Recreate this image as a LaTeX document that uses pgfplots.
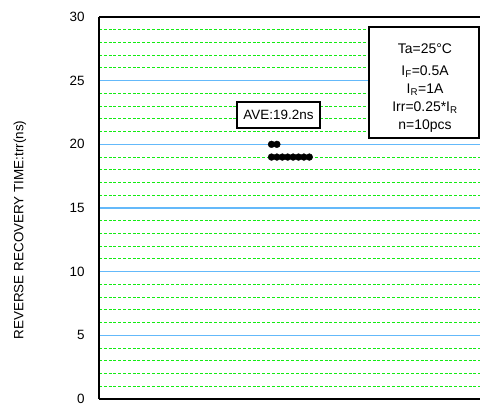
\documentclass[border=0pt]{standalone}
\usepackage{fontspec}
\setmainfont{Liberation Sans}
\usepackage{pgfplots}
\pgfplotsset{compat=1.18}
\definecolor{majorblue}{RGB}{100,185,250}
\definecolor{minorgreen}{RGB}{20,235,20}
\begin{document}
\begin{tikzpicture}[x=1bp,y=1bp]
\begin{scope}
\clip (0,0) rectangle (480,410);
\begin{axis}[
  at={(99bp,11bp)}, anchor=south west,
  scale only axis, width=391bp, height=382bp,
  xmin=99, xmax=490, ymin=0, ymax=30,
  axis x line=box, axis y line=left,
  axis line style={-, line width=1.8bp, black},
  xtick=\empty,
  ytick={0,5,...,30},
  minor ytick={1,2,3,4,6,7,8,9,11,12,13,14,16,17,18,19,21,22,23,24,26,27,28,29},
  major tick length=0pt, minor tick length=0pt,
  ymajorgrids, yminorgrids,
  major grid style={majorblue, line width=1.2bp},
  minor grid style={minorgreen, line width=1.1bp, dash pattern=on 3bp off 1.8bp},
  /pgf/number format/assume math mode=true,
  yticklabel style={font=\fontsize{13.5}{15}\selectfont, anchor=east, xshift=-11bp},
  clip=false,
]
\addplot[only marks, mark=*, mark size=3.4bp, black] coordinates {
  (271.5,20) (276.9,20)
  (271.5,19) (276.9,19) (282.3,19) (287.7,19) (293.1,19) (298.5,19) (303.9,19) (309.3,19)
};
\end{axis}
\node[rotate=90, font=\fontsize{13.5}{15}\selectfont] at (20,180) {REVERSE RECOVERY TIME:trr(ns)};
\draw[line width=1.4bp, fill=white] (369,272) rectangle (479,383);
\begin{scope}[every node/.style={font=\fontsize{14}{16}\selectfont, inner sep=0pt}]
\node at (425,361) {Ta=25°C};
\node at (425,338) {I\textsubscript{F}=0.5A};
\node at (425,320) {I\textsubscript{R}=1A};
\node at (425,302) {Irr=0.25*I\textsubscript{R}};
\node at (425,284) {n=10pcs};
\end{scope}
\draw[line width=1.4bp, fill=white] (237,282) rectangle (320,308);
\node[font=\fontsize{13.5}{16}\selectfont] at (278.5,295) {AVE:19.2ns};
\end{scope}
\pgfresetboundingbox
\useasboundingbox (0,0) rectangle (480,410);
\end{tikzpicture}
\end{document}
